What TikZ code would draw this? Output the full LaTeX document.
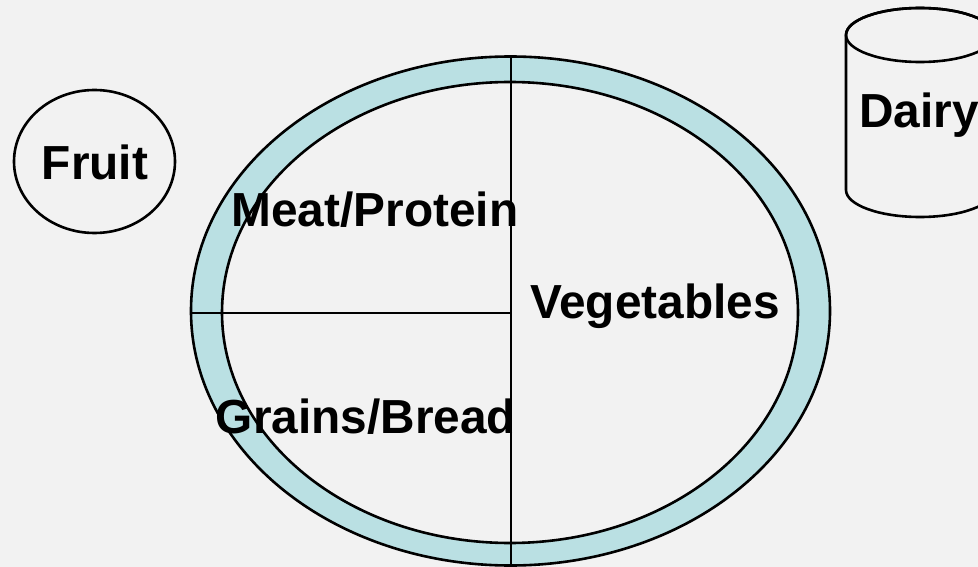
\documentclass[tikz,border=0pt]{standalone}
\usepackage{fontspec}
\setmainfont{Liberation Sans}
\usetikzlibrary{shapes.geometric}
\definecolor{bg}{HTML}{F2F2F2}
\definecolor{band}{HTML}{BAE0E3}
\begin{document}
\begin{tikzpicture}[x=1pt,y=-1pt,
  ln/.style={line width=2.6pt,draw=black},
  lbl/.style={font=\fontsize{47.8}{50}\selectfont\bfseries,inner sep=0pt,text=black}]
\useasboundingbox (0,0) rectangle (978,567);
\fill[bg] (0,0) rectangle (978,567);
\clip (0,0) rectangle (978,567);
% plate
\node[ellipse,ln,fill=band,minimum width=639pt,minimum height=509pt,inner sep=0pt] (plate) at (510.5,311) {};
\node[ellipse,ln,fill=bg,minimum width=576pt,minimum height=461pt,inner sep=0pt] (inner) at (510,312.5) {};
\coordinate (vtop) at (511,56);
\coordinate (vbot) at (511,567);
\coordinate (hleft) at (191,313);
\coordinate (hright) at (511,313);
\draw[ln] (vtop) -- (vbot);
\draw[ln] (hleft) -- (hright);
% fruit
\node[ellipse,ln,fill=bg,minimum width=161pt,minimum height=143pt,inner sep=0pt] (fruitshape) at (94.5,161.5) {};
\node[lbl] (fruit) at (95,162) {Fruit};
% dairy cylinder
\filldraw[ln,fill=bg] (846,35) -- (846,190) arc[start angle=180,end angle=360,x radius=74,y radius=-27] -- (994,35) arc[start angle=0,end angle=180,x radius=74,y radius=-27] -- cycle;
\draw[ln] (920,35) ellipse[x radius=74,y radius=27];
\node[lbl] (dairy) at (919,115) {Dairy};
% labels
\node[lbl] (meat) at (375,210) {Meat/Protein};
\node[lbl] (veg) at (655,306) {Vegetables};
\node[lbl] (grains) at (366,417) {Grains/Bread};
\end{tikzpicture}
\end{document}
